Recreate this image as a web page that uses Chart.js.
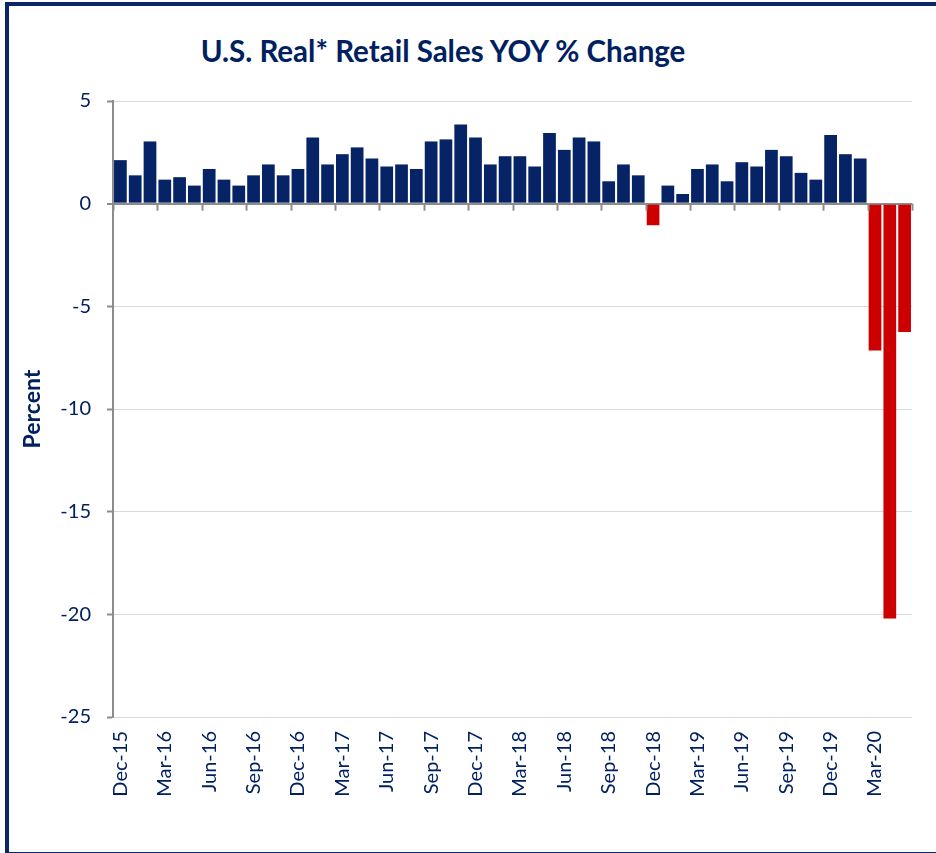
<!DOCTYPE html>
<html>
<head>
<meta charset="utf-8">
<script src="https://cdn.jsdelivr.net/npm/chart.js@4.4.1/dist/chart.umd.min.js"></script>
<style>
    html, body { margin: 0; padding: 0; background: #fff; }
    body { width: 936px; height: 853px; position: relative; overflow: hidden; font-family: Lato, sans-serif; }
    #marco { position: absolute; left: 5px; top: 2px; width: 940px; height: 846px; border: 4px solid #0b2566; border-right: none; }
    #titulo { position: absolute; left: 0; top: 33px; width: 886px; text-align: center; font-weight: bold; font-size: 29.5px; color: #002060; }
    #grafico { position: absolute; left: 0; top: 0; }
</style>
</head>
<body>
<div id="marco"></div>
<div id="titulo">U.S. Real* Retail Sales YOY % Change</div>
<canvas id="grafico" width="936" height="853"></canvas>
<script>
// Months shown on the category axis
const meses = [
    'Dec-15',
    'Jan-16', 'Feb-16', 'Mar-16', 'Apr-16', 'May-16', 'Jun-16', 'Jul-16', 'Aug-16', 'Sep-16', 'Oct-16', 'Nov-16', 'Dec-16',
    'Jan-17', 'Feb-17', 'Mar-17', 'Apr-17', 'May-17', 'Jun-17', 'Jul-17', 'Aug-17', 'Sep-17', 'Oct-17', 'Nov-17', 'Dec-17',
    'Jan-18', 'Feb-18', 'Mar-18', 'Apr-18', 'May-18', 'Jun-18', 'Jul-18', 'Aug-18', 'Sep-18', 'Oct-18', 'Nov-18', 'Dec-18',
    'Jan-19', 'Feb-19', 'Mar-19', 'Apr-19', 'May-19', 'Jun-19', 'Jul-19', 'Aug-19', 'Sep-19', 'Oct-19', 'Nov-19', 'Dec-19',
    'Jan-20', 'Feb-20', 'Mar-20', 'Apr-20', 'May-20'
];

// Real retail sales, year over year % change
const ventasYoY = [
    2.12, 1.38, 3.03, 1.17, 1.29, 0.88, 1.69, 1.17, 0.88, 1.38, 1.91, 1.38, 1.69,
    3.22, 1.91, 2.41, 2.74, 2.20, 1.81, 1.91, 1.69, 3.03, 3.13, 3.86, 3.22,
    1.91, 2.31, 2.31, 1.81, 3.44, 2.62, 3.22, 3.03, 1.09, 1.91, 1.38, -1.05,
    0.88, 0.47, 1.69, 1.91, 1.09, 2.02, 1.81, 2.62, 2.31, 1.50, 1.17, 3.34,
    2.41, 2.20, -7.15, -20.2, -6.25
];

// Value axis
const ejeMin = -25;
const ejeMax = 5;
const ejePaso = 5;

const azul = '#062366';
const rojo = '#cc0000';
const texto = '#002060';
const grisEje = '#8c8c8c';
const grisRejilla = '#d9d9d9';

// Small tick marks on the zero line, every 3 months (between bars)
const marcasCero = {
    id: 'marcasCero',
    afterDatasetsDraw: function(chart) {
        const x = chart.scales.x;
        const y = chart.scales.y;
        const c = chart.ctx;
        const paso = x.width / meses.length;
        const y0 = y.getPixelForValue(0);
        c.save();
        c.strokeStyle = grisEje;
        c.lineWidth = 2;
        for (let i = 0; i <= meses.length; i++) {
            if (i % 3 !== 0 && i !== meses.length) continue;
            const px = Math.round(x.left + i * paso) + 0.5;
            c.beginPath();
            c.moveTo(px, y0);
            c.lineTo(px, y0 + 7);
            c.stroke();
        }
        c.restore();
    }
};

document.addEventListener('DOMContentLoaded', function() {
    var ctx = document.getElementById('grafico').getContext('2d');
    var grafico = new Chart(ctx, {
        type: 'bar',
        data: {
            labels: meses,
            datasets: [{
                label: 'YOY % Change',
                data: ventasYoY,
                backgroundColor: function(c) { return c.raw < 0 ? rojo : azul; },
                borderWidth: 0,
                barPercentage: 0.86,
                categoryPercentage: 1.0
            }]
        },
        options: {
            responsive: false,
            animation: false,
            layout: {
                padding: { top: 101, right: 24, bottom: 0, left: 0 }
            },
            plugins: {
                legend: { display: false },
                tooltip: { enabled: false }
            },
            scales: {
                x: {
                    offset: true,
                    grid: { display: false, drawTicks: false },
                    border: { display: false },
                    ticks: {
                        color: texto,
                        font: { family: 'Lato', size: 20 },
                        autoSkip: false,
                        minRotation: 90,
                        maxRotation: 90,
                        padding: 14,
                        callback: function(v, i) { return i % 3 === 0 ? meses[i] : ''; }
                    },
                    afterFit: function(s) {
                        s.height = 136;
                        s.paddingLeft = 0;
                        s.paddingRight = 0;
                    }
                },
                y: {
                    min: ejeMin,
                    max: ejeMax,
                    ticks: {
                        stepSize: ejePaso,
                        color: texto,
                        font: { family: 'Lato', size: 20 },
                        padding: 16
                    },
                    grid: {
                        color: function(c) { return c.tick && c.tick.value === 0 ? grisEje : grisRejilla; },
                        lineWidth: function(c) { return c.tick && c.tick.value === 0 ? 2 : 1; },
                        tickColor: grisEje,
                        tickLength: 6,
                        tickWidth: 2
                    },
                    border: { color: grisEje, width: 2 },
                    title: {
                        display: true,
                        text: 'Percent',
                        color: texto,
                        font: { family: 'Lato', size: 23, weight: 'bold' },
                        padding: { top: 19, bottom: 0 }
                    },
                    afterFit: function(s) { s.width = 113; }
                }
            }
        },
        plugins: [marcasCero]
    });
});
</script>
</body>
</html>
